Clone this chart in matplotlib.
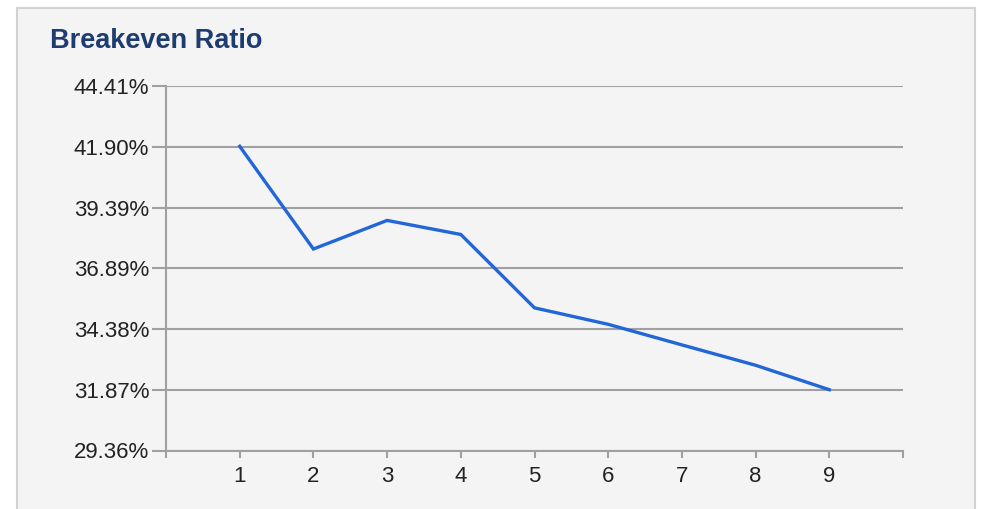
import matplotlib.pyplot as plt
from matplotlib.patches import Rectangle

plt.rcParams['font.family'] = ['Liberation Sans', 'DejaVu Sans']

periods = [1, 2, 3, 4, 5, 6, 7, 8, 9]
ratio = [41.92, 37.68, 38.86, 38.28, 35.25, 34.57, 33.72, 32.88, 31.87]
y_ticks = [29.36, 31.87, 34.38, 36.89, 39.39, 41.90, 44.41]
y_labels = ["29.36%", "31.87%", "34.38%", "36.89%", "39.39%", "41.90%", "44.41%"]

fig = plt.figure(figsize=(9.82, 5.09), dpi=100)
fig.patch.set_facecolor('white')

# grey panel behind the chart
panel = Rectangle((17 / 982, -0.05), (975 - 17) / 982, 1 - 8 / 509 + 0.05,
                  transform=fig.transFigure, facecolor='#f4f4f4',
                  edgecolor='#d2d2d2', linewidth=1.5, zorder=-1)
fig.patches.append(panel)

ax = fig.add_axes([166 / 982, 58.5 / 509, (903 - 166) / 982, (450.5 - 86) / 509])
ax.set_zorder(1)
ax.set_facecolor('none')

ax.plot(periods, ratio, color='#2266d8', linewidth=2.4, solid_joinstyle='miter', zorder=3)

ax.set_xlim(0, 10)
ax.set_ylim(y_ticks[0], y_ticks[-1])
ax.set_xticks(range(0, 11))
ax.set_xticklabels([''] + [str(p) for p in periods] + [''])
ax.set_yticks(y_ticks)
ax.set_yticklabels(y_labels)

ax.grid(axis='y', color='#a0a0a0', linewidth=1.5)
ax.set_axisbelow(True)
for side in ['top', 'right']:
    ax.spines[side].set_visible(False)
for side in ['left', 'bottom']:
    ax.spines[side].set_color('#a0a0a0')
    ax.spines[side].set_linewidth(1.5)

ax.tick_params(axis='y', length=10, width=1.5, color='#a0a0a0', labelsize=16,
               labelcolor='#222222', pad=2)
ax.tick_params(axis='x', length=5, width=1.5, color='#a0a0a0', labelsize=16,
               labelcolor='#222222', pad=6)

fig.text(50 / 982, 1 - 41 / 509, "Breakeven Ratio", fontsize=19.5, fontweight='bold',
         color='#1f3c70', va='center', ha='left')

fig.savefig("out.png", dpi=100)
